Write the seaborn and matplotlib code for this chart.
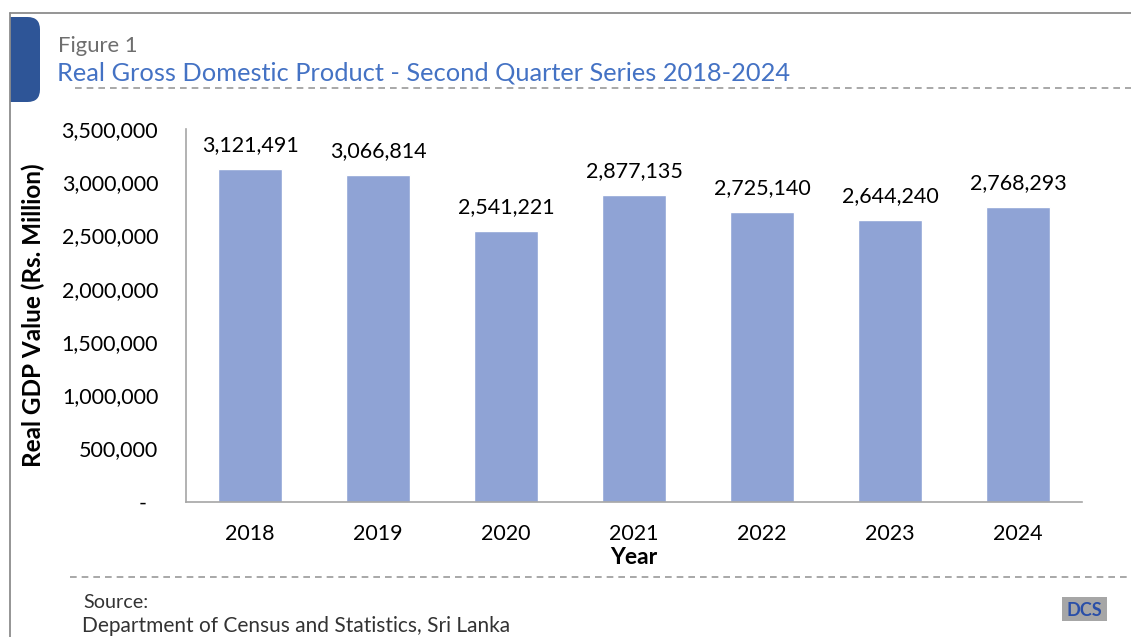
import matplotlib
matplotlib.use("Agg")
import matplotlib.pyplot as plt
from matplotlib.patches import FancyBboxPatch, Rectangle
from matplotlib.lines import Line2D
from matplotlib.ticker import FuncFormatter
import seaborn as sns
import pandas as pd

years = ["2018", "2019", "2020", "2021", "2022", "2023", "2024"]
gdp_values = [3121491, 3066814, 2541221, 2877135, 2725140, 2644240, 2768293]
y_ticks = [0, 500000, 1000000, 1500000, 2000000, 2500000, 3000000, 3500000]

df = pd.DataFrame({"Year": years, "GDP": gdp_values})

sns.set_theme(style="white")
plt.rcParams['font.family'] = ['Lato', 'DejaVu Sans']

W, H = 1131, 637
fig = plt.figure(figsize=(W / 100, H / 100), dpi=100)
fig.patch.set_facecolor("white")

def fx(px):
    return px / W

def fy(py):
    return 1 - py / H

ax = fig.add_axes([fx(186), fy(501.7), fx(1082) - fx(186), fy(129) - fy(501.7)])
sns.barplot(data=df, x="Year", y="GDP", color="#8FA3D5", saturation=1, width=0.5, ax=ax)
ax.set_xlim(-0.5, 6.5)
ax.set_ylim(0, 3500000)
ax.set_yticks(y_ticks)
ax.yaxis.set_major_formatter(FuncFormatter(lambda v, p: "-  " if v == 0 else f"{int(v):,}"))
for s in ["top", "right"]:
    ax.spines[s].set_visible(False)
for s in ["left", "bottom"]:
    ax.spines[s].set_color("#A6A6A6")
    ax.spines[s].set_linewidth(1.2)
ax.tick_params(axis="y", length=0, pad=20, labelsize=15.5, labelcolor="#000000")
ax.tick_params(axis="x", length=0, pad=16, labelsize=15.5, labelcolor="#000000")
ax.set_xlabel("Year", fontsize=16.5, fontweight="bold", labelpad=2, color="black")
ax.set_ylabel("Real GDP Value (Rs. Million)", fontsize=17.5, fontweight="bold", color="black")
ax.yaxis.set_label_coords((45 - 186) / (1082 - 186), 0.5)

for cont in ax.containers:
    ax.bar_label(cont, labels=[f"{v:,}" for v in gdp_values], padding=10, fontsize=15.5, color="black")

# frame lines
fig.add_artist(Line2D([fx(10), 1], [fy(13), fy(13)], color="#8C8C8C", lw=1.3))
fig.add_artist(Line2D([fx(10), fx(10)], [fy(13), 0], color="#8C8C8C", lw=1.3))
# blue tab
tab = FancyBboxPatch((fx(10), fy(102)), fx(40) - fx(10), fy(17) - fy(102),
                     boxstyle="round,pad=0,rounding_size=0.011", transform=fig.transFigure,
                     facecolor="#2E5597", edgecolor="none", mutation_aspect=W / H)
fig.add_artist(tab)
fig.add_artist(Rectangle((fx(10), fy(102)), fx(14), fy(17) - fy(102), transform=fig.transFigure,
                         facecolor="#2E5597", edgecolor="none"))

fig.text(fx(58), fy(46), "Figure 1", fontsize=15.9, color="#6E6E6E", va="center", ha="left")
fig.text(fx(57), fy(73), "Real Gross Domestic Product - Second Quarter Series 2018-2024",
         fontsize=18.3, color="#4472C4", va="center", ha="left")
fig.add_artist(Line2D([fx(75), 1], [fy(88), fy(88)], color="#999999", lw=1.2, linestyle=(0, (4, 3))))
fig.add_artist(Line2D([fx(70), 1], [fy(577), fy(577)], color="#999999", lw=1.2, linestyle=(0, (4, 3))))

fig.text(fx(83), fy(602), "Source:", fontsize=14.2, color="#333333", va="center", ha="left")
fig.text(fx(82), fy(626), "Department of Census and Statistics, Sri Lanka", fontsize=15,
         color="#333333", va="center", ha="left")

# DCS logo
fig.add_artist(Rectangle((fx(1062), fy(621)), fx(45), fy(597) - fy(621), transform=fig.transFigure,
                         facecolor="#A6A6A6", edgecolor="none"))
fig.text(fx(1084.5), fy(611), "DCS", fontsize=13, fontweight="bold", color="#2A4FA8",
         va="center", ha="center")

fig.savefig("out.png", dpi=100, facecolor="white")
